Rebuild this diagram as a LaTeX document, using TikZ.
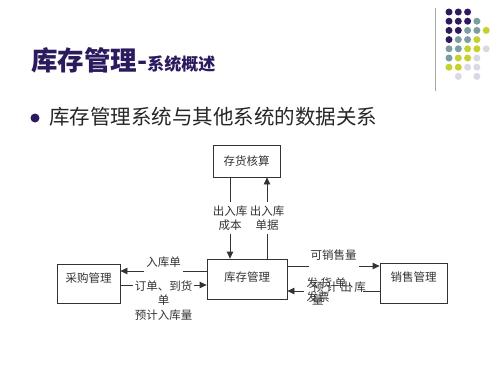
\documentclass[tikz,border=0pt]{standalone}
\usepackage{fontspec}
\setmainfont{Noto Sans CJK SC}
\usetikzlibrary{arrows.meta}
\definecolor{judulungu}{HTML}{2B1B5E}
\definecolor{garis}{HTML}{333333}
\definecolor{teks}{HTML}{333333}
\definecolor{titikP}{HTML}{2E1A5C}
\definecolor{titikT}{HTML}{7C9EA0}
\definecolor{titikY}{HTML}{C6D02E}
\definecolor{titikL}{HTML}{D9D9E6}
\definecolor{titikN}{HTML}{FFFFFF}
\begin{document}
\begin{tikzpicture}[x=1pt,y=-1pt]
    % Koordinat dalam piksel gambar acuan (500 x 375), sumbu y ke bawah.
    \tikzset{
      kotak/.style={draw=garis,line width=0.8pt,inner sep=0pt,text=teks,
        font=\fontsize{11.5}{14}\selectfont},
      panah/.style={draw=garis,line width=0.8pt,-{Triangle[length=7pt,width=6.5pt]}},
      label/.style={fill=white,inner sep=2pt,text=teks,align=center,
        font=\fontsize{11.5}{14.5}\selectfont}}
    \useasboundingbox[fill=white] (0,0) rectangle (500,375);
    % Hiasan pojok kanan atas: garis abu-abu dan grid titik
    \draw[gray!70,line width=1.5pt] (435.5,8) -- (435.5,91);
    \foreach \baris [count=\r from 0] in {{P,P,P},{P,P,P,T},{P,P,T,T,Y},
        {P,T,T,Y},{T,T,Y,Y,L},{T,Y,Y,L},{Y,Y,L,L},{N,L,N,L}} {
      \foreach \c [count=\k from 0] in \baris {
        \fill[titik\c] (449+\k*9.3,12+\r*9.2) circle (3.5pt);
      }
    }
    % Judul dan poin
    \node[anchor=base west,inner sep=0pt,text=judulungu,
      font=\bfseries\fontsize{26.5}{30}\selectfont] (judul) at (31,70)
      {库存管理-{\fontsize{17}{20}\selectfont 系统概述}};
    \node[circle,fill=judulungu,minimum size=9pt,inner sep=0pt] (titik) at (35,118) {};
    \node[anchor=base west,inner sep=0pt,text=black!85,
      font=\fontsize{20.5}{24}\selectfont] (poin) at (49,124.8)
      {库存管理系统与其他系统的数据关系};
    % Kotak sistem
    \node[kotak,minimum width=67pt,minimum height=32pt] (cunhuo) at (246.5,161) {存货核算};
    \node[kotak,minimum width=80pt,minimum height=40pt,text depth=5pt] (kucun) at (247,279) {库存管理};
    \node[kotak,minimum width=63pt,minimum height=39pt,text depth=12pt] (caigou) at (88.5,283.5) {采购管理};
    \node[kotak,minimum width=67pt,minimum height=40pt,text depth=12pt] (xiaoshou) at (413.5,283) {销售管理};
    % 存货核算 <-> 库存管理
    \draw[panah] ([xshift=-16.5pt]cunhuo.south) -- node[label,inner sep=3pt] {出入库\\成本}
      ([xshift=-16.5pt]cunhuo.south |- kucun.north);
    \draw[panah] ([xshift=20.5pt]cunhuo.south |- kucun.north) -- node[label,inner sep=3pt] {出入库\\单据}
      ([xshift=20.5pt]cunhuo.south);
    % 采购管理 <-> 库存管理
    \draw[panah] ([yshift=8pt]kucun.west) -- node[label,text depth=9pt,yshift=5pt] {入库单}
      ([yshift=8pt]kucun.west -| caigou.east);
    \draw[panah] ([yshift=-1.5pt]caigou.east) -- node[label,anchor=north,yshift=6.7pt]
      {订单、到货\\单\\预计入库量} ([yshift=-1.5pt]caigou.east -| kucun.west);
    % 库存管理 <-> 销售管理
    \draw[panah] ([yshift=13pt]kucun.east) -- node[label,text depth=13pt,yshift=5pt] {可销售量}
      ([yshift=13pt]kucun.east -| xiaoshou.west);
    \draw[panah] ([yshift=-8pt]xiaoshou.west) -- node[label,anchor=north,align=left,
      inner xsep=3pt,yshift=15.7pt] (fahuo) {发 货 单 、\\发票}
      ([yshift=-8pt]xiaoshou.west -| kucun.east);
    \node[anchor=base west,inner sep=0pt,align=left,text=teks,
      font=\fontsize{11.5}{13}\selectfont] (yuji) at (312,304.5) {预 计 出 库\\量};
  \end{tikzpicture}
\end{document}
